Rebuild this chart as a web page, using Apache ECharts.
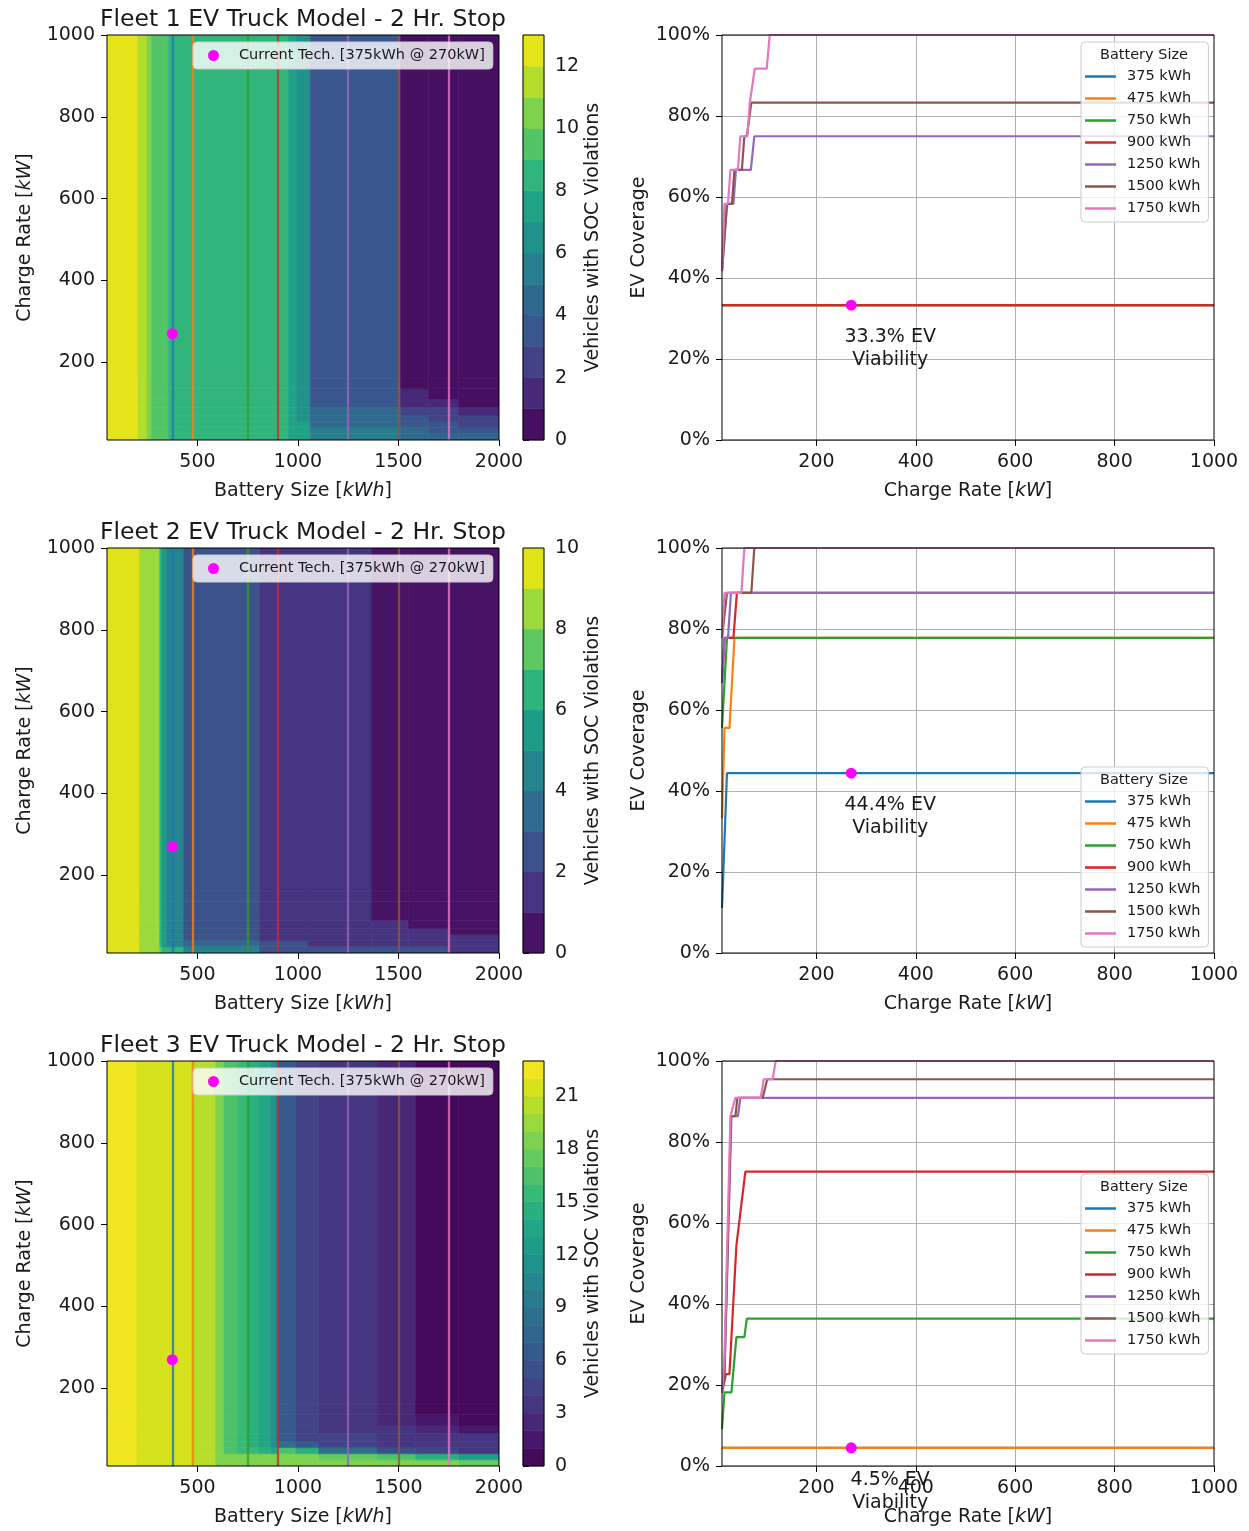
<!DOCTYPE html>
<html>
<head>
<meta charset="utf-8">
<title>EV Truck Fleets - 2 Hr. Stop</title>
<script src="https://cdn.jsdelivr.net/npm/echarts@6/dist/echarts.min.js"></script>
<style>
  html, body { margin: 0; padding: 0; background: #fff; }
  #chart { width: 1249px; height: 1531px; }
</style>
</head>
<body>
<div id="chart"></div>
<script>
// battery sizes shown as lines (kWh)
const batterySizes = [375, 475, 750, 900, 1250, 1500, 1750]
const batteryNames = batterySizes.map(b => b + ' kWh')
const tab10 = ['#1f77b4', '#ff7f0e', '#2ca02c', '#d62728', '#9467bd', '#8c564b', '#e377c2']

// current tech point [kWh, kW]
const currentTech = [375, 270]
const currentTechName = 'Current Tech. [375kWh @ 270kW]'

// heatmap cell edges, charge rate (kW), shared by all fleets
const chargeEdges = [10, 25, 40, 55, 70, 90, 110, 135, 160, 1000]

// fleet 1: battery edges (kWh) and violation counts, rows bottom -> top
const fleet1BatteryEdges = [50, 204, 249, 270, 355, 953, 995, 1061, 1250, 1509, 1650, 1800, 2000]
const fleet1Counts = [
  [12, 11, 10, 9, 8, 7, 7, 5, 5, 4, 4, 4],
  [12, 11, 10, 9, 8, 7, 7, 5, 5, 4, 3, 3],
  [12, 11, 10, 9, 8, 7, 7, 4, 4, 3, 3, 2],
  [12, 11, 10, 9, 8, 7, 6, 4, 4, 3, 2, 2],
  [12, 11, 10, 9, 8, 7, 6, 4, 4, 2, 2, 1],
  [12, 11, 10, 9, 8, 7, 6, 3, 3, 1, 1, 0],
  [12, 11, 10, 9, 8, 7, 6, 3, 3, 1, 0, 0],
  [12, 11, 10, 9, 8, 7, 6, 3, 3, 0, 0, 0],
  [12, 11, 10, 9, 8, 7, 6, 3, 3, 0, 0, 0]
]

// fleet 2
const fleet2BatteryEdges = [50, 212, 312, 323, 348, 431, 809, 1050, 1365, 1550, 1750, 2000]
const fleet2Counts = [
  [9, 8, 7, 6, 6, 4, 2, 2, 2, 2, 1],
  [9, 8, 6, 5, 4, 3, 2, 1, 1, 1, 1],
  [9, 8, 6, 5, 4, 2, 1, 1, 1, 1, 1],
  [9, 8, 6, 5, 4, 2, 1, 1, 1, 1, 0],
  [9, 8, 6, 5, 4, 2, 1, 1, 1, 0, 0],
  [9, 8, 6, 5, 4, 2, 1, 1, 0, 0, 0],
  [9, 8, 6, 5, 4, 2, 1, 1, 0, 0, 0],
  [9, 8, 6, 5, 4, 2, 1, 1, 0, 0, 0],
  [9, 8, 6, 5, 4, 2, 1, 1, 0, 0, 0]
]

// fleet 3
const fleet3BatteryEdges = [50, 199, 470, 590, 632, 698, 748, 806, 864, 897, 988, 1104, 1394, 1585, 1800, 2000]
const fleet3Counts = [
  [22, 21, 20, 18, 18, 18, 18, 18, 18, 18, 18, 18, 18, 18, 17],
  [22, 21, 20, 18, 18, 18, 18, 18, 18, 18, 18, 17, 16, 14, 12],
  [22, 21, 20, 18, 16, 15, 15, 14, 13, 16, 14, 8, 5, 4, 3],
  [22, 21, 20, 18, 16, 15, 14, 13, 11, 8, 6, 4, 3, 3, 3],
  [22, 21, 20, 18, 16, 15, 14, 13, 11, 6, 4, 4, 3, 3, 3],
  [22, 21, 20, 18, 16, 15, 14, 13, 11, 6, 4, 3, 3, 2, 1],
  [22, 21, 20, 18, 16, 15, 14, 13, 11, 6, 4, 3, 2, 1, 0],
  [22, 21, 20, 18, 16, 15, 14, 13, 11, 6, 4, 3, 2, 0, 0],
  [22, 21, 20, 18, 16, 15, 14, 13, 11, 6, 4, 3, 2, 0, 0]
]

// colorbar top level and tick labels per fleet
const levelMax = [13, 10, 23]
const fleet1BarTicks = [0, 2, 4, 6, 8, 10, 12]
const fleet2BarTicks = [0, 2, 4, 6, 8, 10]
const fleet3BarTicks = [0, 3, 6, 9, 12, 15, 18, 21]

// EV coverage (%) vs charge rate (kW), one list per battery size
const fleet1Coverage = [
  [[10, 33.3], [1000, 33.3]],
  [[10, 33.3], [1000, 33.3]],
  [[10, 33.3], [1000, 33.3]],
  [[10, 33.3], [1000, 33.3]],
  [[10, 41.7], [20, 58.3], [33, 58.3], [38, 66.7], [68, 66.7], [75, 75], [1000, 75]],
  [[10, 41.7], [20, 58.3], [30, 58.3], [35, 66.7], [50, 66.7], [55, 75], [60, 75], [69, 83.3], [1000, 83.3]],
  [[10, 41.7], [15, 58.3], [22, 58.3], [27, 66.7], [42, 66.7], [47, 75], [61, 75], [66, 83.3], [70, 83.3], [76, 91.7], [100, 91.7], [106, 100], [1000, 100]]
]
const fleet2Coverage = [
  [[10, 11.1], [20, 44.4], [1000, 44.4]],
  [[10, 33.3], [15, 55.6], [25, 55.6], [35, 77.8], [1000, 77.8]],
  [[10, 55.6], [20, 77.8], [1000, 77.8]],
  [[10, 66.7], [15, 77.8], [33, 77.8], [40, 88.9], [1000, 88.9]],
  [[10, 66.7], [15, 77.8], [22, 77.8], [28, 88.9], [1000, 88.9]],
  [[10, 77.8], [20, 88.9], [69, 88.9], [75, 100], [1000, 100]],
  [[10, 77.8], [15, 88.9], [49, 88.9], [55, 100], [1000, 100]]
]
const fleet3Coverage = [
  [[10, 4.5], [1000, 4.5]],
  [[10, 4.5], [1000, 4.5]],
  [[10, 9.1], [15, 18.2], [29, 18.2], [39, 31.8], [55, 31.8], [60, 36.4], [1000, 36.4]],
  [[10, 18.2], [18, 22.7], [25, 22.7], [39, 54.5], [57, 72.7], [1000, 72.7]],
  [[10, 18.2], [15, 22.7], [29, 86.4], [42, 86.4], [47, 90.9], [1000, 90.9]],
  [[10, 18.2], [15, 22.7], [28, 86.4], [37, 86.4], [41, 90.9], [92, 90.9], [101, 95.5], [1000, 95.5]],
  [[10, 18.2], [15, 27.3], [27, 86.4], [37, 90.9], [88, 90.9], [94, 95.5], [112, 95.5], [118, 100], [1000, 100]]
]

// viability of current tech per fleet (%)
const fleetViability = [33.3, 44.4, 4.5]

const fleetTitles = [
  'Fleet 1 EV Truck Model - 2 Hr. Stop',
  'Fleet 2 EV Truck Model - 2 Hr. Stop',
  'Fleet 3 EV Truck Model - 2 Hr. Stop'
]

const heatEdges = [fleet1BatteryEdges, fleet2BatteryEdges, fleet3BatteryEdges]
const heatCounts = [fleet1Counts, fleet2Counts, fleet3Counts]
const barTicks = [fleet1BarTicks, fleet2BarTicks, fleet3BarTicks]
const coverage = [fleet1Coverage, fleet2Coverage, fleet3Coverage]

// layout
const FONT = 'DejaVu Sans'
const INK = '#1a1a1a'
const rowTops = [35, 548, 1061]
const plotH = 405
const techLegendTops = [42, 555, 1068]
const sizeLegendTops = [42, 767, 1174]
const titleTops = [8, 521, 1034]

// viridis colormap
const viridisStops = ['#440154', '#471365', '#482475', '#463480', '#414487', '#3b528b', '#355f8d',
  '#306a8e', '#2a788e', '#25848e', '#21918c', '#1e9c89', '#22a884', '#2fb47c', '#44bf70',
  '#5ec962', '#7ad151', '#9bd93c', '#bddf26', '#dfe318', '#fde725']

function hexRgb (h) {
  return [1, 3, 5].map(i => parseInt(h.slice(i, i + 2), 16))
}

function viridis (t) {
  t = Math.max(0, Math.min(1, t))
  const pos = t * (viridisStops.length - 1)
  const i = Math.min(Math.floor(pos), viridisStops.length - 2)
  const f = pos - i
  const a = hexRgb(viridisStops[i])
  const b = hexRgb(viridisStops[i + 1])
  const c = a.map((v, k) => Math.round(v + (b[k] - v) * f))
  return 'rgb(' + c.join(',') + ')'
}

// band [v, v+1] gets the colour of its midpoint
function bandColor (count, max) {
  const v = Math.min(Math.floor(count), max - 1)
  return viridis((v + 0.5) / max)
}

function buildCells (edges, counts) {
  const out = []
  counts.forEach((row, r) => {
    row.forEach((c, k) => {
      out.push([edges[k], edges[k + 1], chargeEdges[r], chargeEdges[r + 1], c])
    })
  })
  return out
}

function rectRenderer (max) {
  return function (params, api) {
    const p0 = api.coord([api.value(0), api.value(3)])
    const p1 = api.coord([api.value(1), api.value(2)])
    const color = bandColor(api.value(4), max)
    return {
      type: 'rect',
      shape: { x: p0[0], y: p0[1], width: p1[0] - p0[0], height: p1[1] - p0[1] },
      style: { fill: color, stroke: color, lineWidth: 0.6 }
    }
  }
}

const plain = v => String(v)
const tickStyle = { show: true, inside: false, length: 6, lineStyle: { color: '#000', width: 1 } }
const labelStyle = { color: INK, fontSize: 19, fontFamily: FONT }
// y labels sit a touch below their tick, like the original
const yLabelStyle = Object.assign({ padding: [4, 0, 0, 0] }, labelStyle)
const nameStyle = {
  color: INK,
  fontSize: 19,
  fontFamily: FONT,
  rich: { i: { fontStyle: 'italic', fontSize: 19, color: INK, fontFamily: FONT } }
}

const grids = []
const xAxes = []
const yAxes = []
const series = []
const legends = []
const titles = []

for (let f = 0; f < 3; f++) {
  const top = rowTops[f]
  const max = levelMax[f]
  const iHeat = 3 * f
  const iBar = 3 * f + 1
  const iLine = 3 * f + 2

  // --- heatmap panel ---
  grids.push({ left: 107, top: top, width: 392, height: plotH })
  xAxes.push({
    type: 'value', gridIndex: iHeat, min: 50, max: 2000,
    name: 'Battery Size [{i|kWh}]', nameLocation: 'middle', nameGap: 42, nameTextStyle: nameStyle,
    axisLine: { show: false },
    axisTick: Object.assign({ customValues: [500, 1000, 1500, 2000] }, tickStyle),
    axisLabel: Object.assign({ customValues: [500, 1000, 1500, 2000], margin: 13, formatter: plain }, labelStyle),
    splitLine: { show: false }
  })
  yAxes.push({
    type: 'value', gridIndex: iHeat, min: 10, max: 1000,
    name: 'Charge Rate [{i|kW}]', nameLocation: 'middle', nameGap: 72, nameTextStyle: nameStyle,
    axisLine: { show: false },
    axisTick: Object.assign({ customValues: [200, 400, 600, 800, 1000] }, tickStyle),
    axisLabel: Object.assign({ customValues: [200, 400, 600, 800, 1000], margin: 12, formatter: plain }, yLabelStyle),
    splitLine: { show: false }
  })
  series.push({
    type: 'custom',
    xAxisIndex: iHeat,
    yAxisIndex: iHeat,
    renderItem: rectRenderer(max),
    encode: { x: [0, 1], y: [2, 3] },
    data: buildCells(heatEdges[f], heatCounts[f]),
    clip: true,
    silent: true,
    z: 2,
    markLine: {
      silent: true,
      symbol: 'none',
      label: { show: false },
      animation: false,
      z: 5,
      lineStyle: { type: 'solid', width: 2.3, opacity: 0.8 },
      data: batterySizes.map((b, k) => ({ xAxis: b, lineStyle: { color: tab10[k] } }))
    }
  })
  series.push({
    type: 'scatter',
    name: currentTechName,
    xAxisIndex: iHeat,
    yAxisIndex: iHeat,
    data: [currentTech],
    symbolSize: 11,
    itemStyle: { color: '#ff00ff', opacity: 1 },
    z: 7,
    silent: true
  })
  legends.push({
    left: 193, top: techLegendTops[f],
    data: [{ name: currentTechName, icon: 'circle' }],
    itemWidth: 33, itemHeight: 11,
    padding: [6, 8, 6, 15],
    backgroundColor: 'rgba(255,255,255,0.8)',
    borderColor: '#cccccc', borderWidth: 1, borderRadius: 4,
    selectedMode: false,
    textStyle: { color: INK, fontSize: 14.5, fontFamily: FONT, padding: [0, 0, 0, 4] },
    z: 8
  })
  titles.push({
    text: fleetTitles[f], left: 303, top: titleTops[f], textAlign: 'center', padding: 0,
    textStyle: { color: INK, fontSize: 23.5, fontWeight: 'normal', fontFamily: FONT }
  })

  // --- colorbar ---
  grids.push({ left: 523, top: top, width: 21, height: plotH })
  xAxes.push({ type: 'value', gridIndex: iBar, min: 0, max: 1, show: false })
  yAxes.push({
    type: 'value', gridIndex: iBar, position: 'right', min: 0, max: max,
    name: 'Vehicles with SOC Violations', nameLocation: 'middle', nameRotate: 90, nameGap: 37,
    nameTextStyle: nameStyle,
    axisLine: { show: false },
    axisTick: Object.assign({ customValues: barTicks[f] }, tickStyle),
    axisLabel: Object.assign({ customValues: barTicks[f], margin: 11, formatter: plain }, yLabelStyle),
    splitLine: { show: false }
  })
  const bands = []
  for (let v = 0; v < max; v++) bands.push([0, 1, v, v + 1, v])
  series.push({
    type: 'custom',
    xAxisIndex: iBar,
    yAxisIndex: iBar,
    renderItem: rectRenderer(max),
    encode: { x: [0, 1], y: [2, 3] },
    data: bands,
    silent: true,
    z: 2
  })

  // --- coverage lines ---
  grids.push({ left: 722, top: top, width: 492, height: plotH })
  xAxes.push({
    type: 'value', gridIndex: iLine, min: 10, max: 1000,
    name: 'Charge Rate [{i|kW}]', nameLocation: 'middle', nameGap: 42, nameTextStyle: nameStyle,
    axisLine: { show: false },
    axisTick: Object.assign({ customValues: [200, 400, 600, 800, 1000] }, tickStyle),
    axisLabel: Object.assign({ customValues: [200, 400, 600, 800, 1000], margin: 13, formatter: plain }, labelStyle),
    splitLine: { show: false }
  })
  yAxes.push({
    type: 'value', gridIndex: iLine, min: 0, max: 100, interval: 20,
    name: 'EV Coverage', nameLocation: 'middle', nameGap: 73, nameTextStyle: nameStyle,
    axisLine: { show: false },
    axisTick: tickStyle,
    axisLabel: Object.assign({ formatter: '{value}%', margin: 12 }, yLabelStyle),
    splitLine: { show: true, lineStyle: { color: '#b0b0b0', width: 1 } }
  })
  coverage[f].forEach((pts, k) => {
    const s = {
      type: 'line',
      name: batteryNames[k],
      xAxisIndex: iLine,
      yAxisIndex: iLine,
      data: pts,
      symbol: 'none',
      color: tab10[k],
      lineStyle: { color: tab10[k], width: 2.2 },
      silent: true,
      z: 2
    }
    if (k === 0) {
      s.markLine = {
        silent: true,
        symbol: 'none',
        label: { show: false },
        animation: false,
        z: 1,
        lineStyle: { type: 'solid', color: '#b0b0b0', width: 1 },
        data: [200, 400, 600, 800].map(v => ({ xAxis: v }))
      }
    }
    series.push(s)
  })
  series.push({
    type: 'scatter',
    name: 'viability',
    xAxisIndex: iLine,
    yAxisIndex: iLine,
    data: [[currentTech[1], fleetViability[f]]],
    symbolSize: 11,
    itemStyle: { color: '#ff00ff', opacity: 1 },
    z: 6,
    silent: true,
    label: {
      show: true,
      position: 'bottom',
      distance: 0,
      offset: [39, 15],
      formatter: fleetViability[f] + '% EV\nViability',
      color: INK,
      opacity: 1,
      fontSize: 19,
      lineHeight: 23,
      fontFamily: FONT,
      align: 'center'
    }
  })
  legends.push({
    left: 1081, top: sizeLegendTops[f],
    orient: 'vertical',
    data: batteryNames.map(n => ({ name: n, icon: 'rect' })),
    itemWidth: 31, itemHeight: 2.5, itemGap: 7,
    padding: [27, 8, 6, 4],
    backgroundColor: 'rgba(255,255,255,0.8)',
    borderColor: '#cccccc', borderWidth: 1, borderRadius: 4,
    selectedMode: false,
    textStyle: { color: INK, fontSize: 14.5, fontFamily: FONT, padding: [0, 0, 0, 6] },
    z: 8
  })
  titles.push({
    text: 'Battery Size', left: 1144, top: sizeLegendTops[f] + 6, textAlign: 'center', padding: 0,
    textStyle: { color: INK, fontSize: 14.5, fontWeight: 'normal', fontFamily: FONT },
    z: 9
  })
}

// frame drawn above the plotted marks
grids.forEach(g => {
  g.show = true
  g.z = 10
  g.backgroundColor = 'transparent'
  g.borderColor = '#000'
  g.borderWidth = 1
})

const chart = echarts.init(document.getElementById('chart'))
chart.setOption({
  animation: false,
  backgroundColor: '#fff',
  textStyle: { fontFamily: FONT },
  title: titles,
  legend: legends,
  grid: grids,
  xAxis: xAxes,
  yAxis: yAxes,
  series: series
})
</script>
</body>
</html>
